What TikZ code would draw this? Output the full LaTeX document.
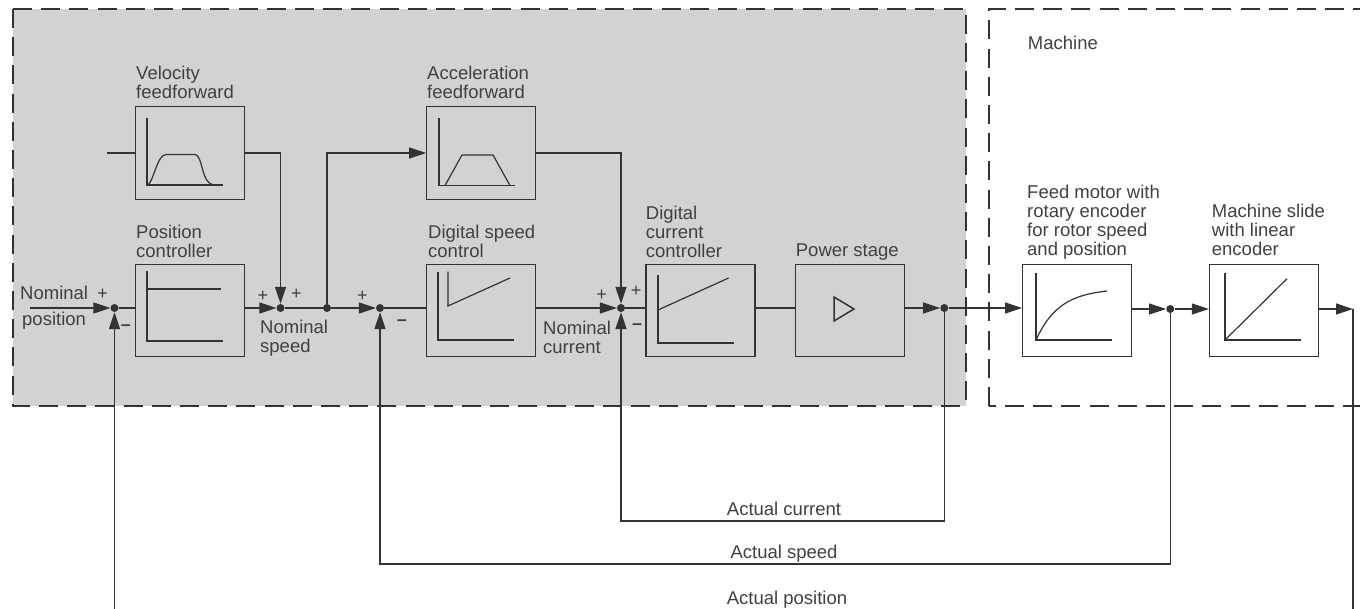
\documentclass[tikz,border=0pt]{standalone}
\usepackage{fontspec}
\setmainfont{Liberation Sans}
\usetikzlibrary{arrows.meta}
\definecolor{panelgray}{HTML}{D1D2D4}
\definecolor{ink}{HTML}{333333}
\definecolor{lettering}{HTML}{404040}
\begin{document}
\begin{tikzpicture}
[x=1pt,y=-1pt,every node/.style={inner sep=0pt,text=lettering},
block/.style={draw=ink,line width=1.2pt,minimum width=109pt,minimum height=92.5pt},
dot/.style={circle,fill=ink,minimum size=8pt},
caption/.style={font=\fontsize{18.5}{19}\selectfont,align=left,anchor=base west},
sign/.style={font=\fontsize{18}{18}\selectfont},
frame/.style={draw=ink,line width=1.5pt,dash pattern=on 19pt off 9.2pt},
wire/.style={draw=ink,line width=1.2pt},
flow/.style={wire,-{Triangle[length=17pt,width=11pt]}},
axes/.style={draw=ink,line width=1.8pt},
curve/.style={draw=ink,line width=1.2pt}]
\useasboundingbox (0,0) rectangle (1360,609);
\clip (0,0) rectangle (1360,609);
% frames
\node[fill=panelgray,outer sep=0pt,anchor=north west,minimum width=953pt,minimum height=397pt] (panel) at (13,9) {};
\draw[frame] (panel.north west) -- (panel.north east) -- (panel.south east);
\draw[frame] (panel.north west) -- (panel.south west) -- (panel.south east);
\draw[frame] (989,406) -- (989,9) -- (1360,9);
\draw[frame,dash phase=12.3pt] (989,406) -- (1360,406);
% blocks
\node[block] (vff) at (190.3,153) {};
\node[block] (pos) at (190.3,310.5) {};
\node[block] (aff) at (481.3,153) {};
\node[block] (spd) at (481.3,310.5) {};
\node[block] (cur) at (700.5,310.5) {};
\node[block] (pow) at (850.2,310.5) {};
\node[block] (mot) at (1077.2,310.5) {};
\node[block] (sld) at (1263.9,310.5) {};
% junctions
\node[dot] (j1) at (114.5,308) {};
\node[dot] (j2) at (280.5,308) {};
\node[dot] (j3) at (327,308) {};
\node[dot] (j4) at (380,308) {};
\node[dot] (j5) at (621,308) {};
\node[dot] (j6) at (944.3,308) {};
\node[dot] (j7) at (1170.3,309) {};
\coordinate (in) at (30,308);
\coordinate (vin) at (107,153);
\coordinate (out) at (1353,309);
\coordinate (fpos) at (114.5,609);
\coordinate (fposr) at (1353,609);
\coordinate (fspd) at (380,564);
\coordinate (fcur) at (621,521);
\coordinate (vcorner) at (280.5,153);
\coordinate (acorner) at (327,153);
\coordinate (bcorner) at (621,153);
% captions
\node[caption] (t1) at (136,98.5) {Velocity\\feedforward};
\node[caption] (t2) at (136,257.5) {Position\\controller};
\node[caption] (t3) at (427,98.5) {Acceleration\\feedforward};
\node[caption] (t4) at (428,257.5) {Digital speed\\control};
\node[caption] (t5) at (645.7,257.5) {Digital\\current\\controller};
\node[caption] (t6) at (795.7,256.5) {Power stage};
\node[caption] (t7) at (1027,256) {Feed motor with\\rotary encoder\\for rotor speed\\and position};
\node[caption] (t8) at (1211.7,256) {Machine slide\\with linear\\encoder};
\node[caption] (t9) at (1027.7,49.5) {Machine};
\node[caption] (t10) at (20,300) {Nominal};
\node[caption] (t11) at (22,326) {position};
\node[caption] (t12) at (260,353) {Nominal\\speed};
\node[caption] (t13) at (543,354) {Nominal\\current};
\node[caption,anchor=base] (t14) at (784,515) {Actual current};
\node[caption,anchor=base] (t15) at (784,558) {Actual speed};
\node[caption,anchor=base] (t16) at (787,604) {Actual position};
% signs
\foreach \name/\x/\y in {p1/102.7/294,p2/263/296,p3/296.5/294,p4/362.5/296,p5/601.5/295,p6/636/291}
\node[sign] (\name) at (\x,\y) {+};
\foreach \name/\x/\y in {m1/126/327.7,m2/402/323,m3/637/327}
\node[sign,font=\fontsize{18}{18}\selectfont\bfseries] (\name) at (\x,\y) {--};
% connectors
\draw[flow] (in) -- (j1);
\draw[wire] (j1) -- (j1 -| pos.west);
\draw[flow] (j2 -| pos.east) -- (j2);
\draw[wire] (j2) -- (j3);
\draw[flow] (j3) -- (j4);
\draw[wire] (j4) -- (j4 -| spd.west);
\draw[flow] (j5 -| spd.east) -- (j5);
\draw[wire] (j5) -- (j5 -| cur.west);
\draw[wire] (j5 -| cur.east) -- (j5 -| pow.west);
\draw[flow] (j6 -| pow.east) -- (j6);
\draw[flow] (j6) -- (j6 -| mot.west);
\draw[flow] (j7 -| mot.east) -- (j7);
\draw[flow] (j7) -- (j7 -| sld.west);
\draw[flow] (out -| sld.east) -- (out);
\draw[wire] (out) -- (fposr);
\draw[wire] (vin) -- (vin -| vff.west);
\draw[flow] (vcorner -| vff.east) -- (vcorner) -- (j2);
\draw[flow] (j3) -- (acorner) -- (acorner -| aff.west);
\draw[flow] (bcorner -| aff.east) -- (bcorner) -- (j5);
\draw[flow] (fpos) -- (j1);
\draw[flow] (j7) |- (fspd) -- (j4);
\draw[flow] (j6) |- (fcur) -- (j5);
% graphs
\draw[axes] (146.7,118) -- (146.7,185) -- (222.7,185);
\draw[curve] (148,185) .. controls (154,180) and (157,155) .. (166,154.5) -- (195,154.5) .. controls (203,155) and (201,184) .. (214,185);
\draw[axes] (147,270.7) -- (147,340.7) -- (222.7,340.7);
\draw[curve] (147,289) -- (221,289);
\draw[axes] (439.3,118) -- (439.3,185.5) -- (515,185.5);
\draw[curve] (445,185.5) -- (462,155) -- (493,155) -- (510,185.5);
\draw[axes] (438,271.7) -- (438,340) -- (514,340);
\draw[curve] (448,271.7) -- (448,306) -- (510,278);
\draw[axes] (658,275) -- (658,343) -- (734,343);
\draw[curve] (658,310) -- (728.6,278);
\draw[curve,line width=1.5pt] (834,297) -- (834,321) -- (854,309) -- cycle;
\draw[axes] (1036,272.7) -- (1036,340) -- (1112,340);
\draw[curve] (1036,340) .. controls (1052,305) and (1072,295) .. (1107,291);
\draw[axes] (1225,272.7) -- (1225,340) -- (1300.7,340);
\draw[curve] (1225,340) -- (1287,278.7);
\end{tikzpicture}
\end{document}
